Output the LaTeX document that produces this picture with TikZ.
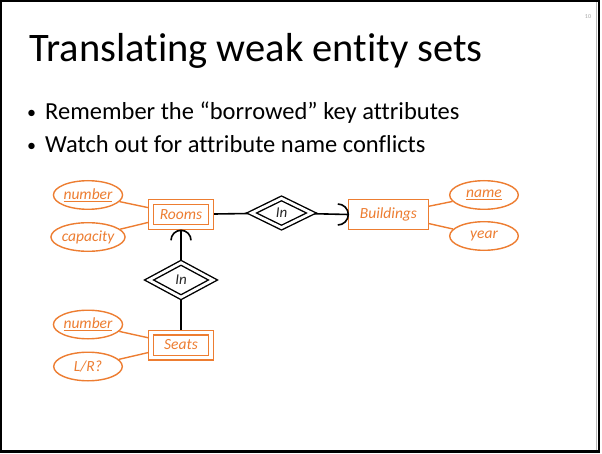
\documentclass[tikz,border=0pt]{standalone}
\usepackage{fontspec}
\setmainfont{Carlito}[Ligatures=NoCommon]
\usetikzlibrary{shapes.geometric,backgrounds}
\definecolor{erorange}{RGB}{237,125,49}
\definecolor{inkgray}{RGB}{38,38,38}
\newcommand{\slidebullet}{\makebox[18pt][l]{\raisebox{1pt}{\fontsize{18}{18}\selectfont•}}}

\begin{document}
\begin{tikzpicture}[x=1pt,y=1pt,
  entitybase/.style={draw=erorange, fill=white, line width=1.4pt, rectangle, inner sep=0pt,
    font=\fontsize{15.5}{17}\selectfont\itshape, text=erorange},
  weakentity/.style={entitybase, double=white, double distance=3.2pt,
    minimum width=60pt, minimum height=25pt, outer sep=3pt},
  strongentity/.style={entitybase, minimum width=79.6pt, minimum height=29.6pt, outer sep=0.7pt},
  attr/.style={draw=erorange, fill=white, line width=1.4pt, ellipse, inner sep=0pt,
    minimum width=68.6pt, minimum height=28.6pt,
    font=\fontsize{15.5}{17}\selectfont\itshape, text=erorange},
  relship/.style={draw=black, fill=white, line width=1.4pt, diamond, inner sep=0pt,
    double=white, double distance=2.8pt,
    font=\fontsize{15}{17}\selectfont\itshape, text=inkgray},
  attrlink/.style={draw=erorange, line width=1.4pt},
  rellink/.style={draw=black, line width=1.6pt},
  titletext/.style={anchor=base west, inner sep=0pt, font=\fontsize{40.5}{42}\selectfont, text=black},
  bullettext/.style={anchor=base west, inner sep=0pt, font=\fontsize{24.5}{26}\selectfont, text=black},
]
\useasboundingbox (0,0) rectangle (602,453);

% slide frame
\draw[line width=2.2pt] (1.1,1.6) rectangle (598.6,452);
\draw[gray!55, line width=0.8pt] (596.4,3) -- (596.4,450.8);

% slide number, heading and bullets
\node[anchor=center, inner sep=0pt, font=\fontsize{6}{7}\selectfont, text=gray!70] (pagenum) at (588,436) {10};
\node[titletext] (title) at (29,391) {Translating weak entity sets};
\node[bullettext] (bulletA) at (27,333) {\slidebullet Remember the “borrowed” key attributes};
\node[bullettext] (bulletB) at (27,300) {\slidebullet Watch out for attribute name conflicts};

% entity sets
\node[weakentity] (rooms) at (181,238.5) {Rooms};
\node[strongentity] (buildings) at (388.5,238.5) {Buildings};
\node[weakentity] (seats) at (181,108) {Seats};

% identifying relationships
\node[relship, minimum width=60.4pt, minimum height=29.8pt] (inB) at (281.5,240) {In};
\node[relship, minimum width=64.5pt, minimum height=35pt] (inS) at (181,173) {In};

% attributes
\node[attr] (roomnum) at (88,258) {\underline{number}};
\node[attr] (capacity) at (88,216) {capacity};
\node[attr] (seatnum) at (88,128.5) {\underline{number}};
\node[attr] (lr) at (88,86.5) {L/R?};
\node[attr] (bname) at (484,258) {\underline{name}};
\node[attr] (byear) at (484,217) {year};

% points where the rounded "exactly one" ends touch their entity sets
\coordinate (bArc) at ([xshift=0.3pt]buildings.west);
\coordinate (rArc) at ([yshift=-0.3pt]rooms.south);

\begin{scope}[on background layer]
  \draw[attrlink] (roomnum) -- (rooms);
  \draw[attrlink] (capacity) -- (rooms);
  \draw[attrlink] (seatnum) -- (seats);
  \draw[attrlink] (lr) -- (seats);
  \draw[attrlink] (bname) -- (buildings);
  \draw[attrlink] (byear) -- (buildings);
  \draw[rellink] (rooms) -- (inB);
  \draw[rellink] (inB) -- (bArc);
  \draw[rellink] (inS) -- (rArc);
  \draw[rellink] (inS) -- (seats);
\end{scope}

% rounded arrow ends
\draw[rellink] (bArc) ++(-10.5,10.5) arc (90:-90:10.5);
\draw[rellink] (rArc) ++(-10,-10) arc (180:0:10);
\end{tikzpicture}
\end{document}
